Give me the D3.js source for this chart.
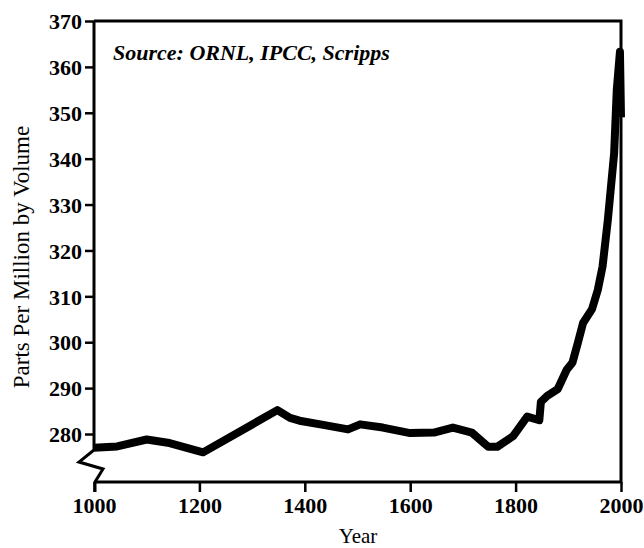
<!DOCTYPE html>
<html>
<head>
<meta charset="utf-8">
<script src="https://cdn.jsdelivr.net/npm/d3@7"></script>
<style>
  html, body { margin: 0; padding: 0; background: #fff; }
  svg { display: block; }
</style>
</head>
<body>
<script>
// ---- data ----
const years = [1000, 1044, 1100, 1140, 1207, 1348, 1372, 1390, 1435, 1482, 1505, 1548, 1600, 1645,
               1681, 1717, 1748, 1765, 1795, 1822, 1845, 1848, 1860, 1880, 1897, 1908, 1918, 1928,
               1945, 1956, 1965, 1975, 1987, 1992, 1998, 2000];
const ppm   = [277.0, 277.3, 278.8, 278.1, 276.0, 285.2, 283.5, 282.9, 282.0, 281.0, 282.1, 281.4, 280.2, 280.3,
               281.4, 280.3, 277.2, 277.2, 279.5, 283.8, 283.0, 287.0, 288.3, 289.8, 294.0, 295.6, 299.8, 304.2,
               307.2, 311.4, 316.5, 326.6, 341.2, 355.0, 363.3, 349.0];
const xTicks = [1000, 1200, 1400, 1600, 1800, 2000];
const yTicks = [280, 290, 300, 310, 320, 330, 340, 350, 360, 370];
const sourceText = "Source: ORNL, IPCC, Scripps";
const xTitle = "Year";
const yTitle = "Parts Per Million by Volume";

// ---- layout ----
const W = 644, H = 548;
const mLeft = 94, mRight = 621, mTop = 21, mBottom = 482;
const FONT = "Liberation Serif";

const svg = d3.select("body").append("svg").attr("width", W).attr("height", H);

const x = d3.scaleLinear().domain([1000, 2000]).range([mLeft, mRight]);
const y = d3.scaleLinear().domain([280, 370]).range([434, mTop]);

// frame: top, right, bottom
svg.append("path")
  .attr("d", `M${mLeft},${mTop}H${mRight}V${mBottom}H${mLeft + 1}`)
  .attr("fill", "none").attr("stroke", "#000").attr("stroke-width", 3);

// left axis line with break zigzag
svg.append("path")
  .attr("d", `M${mLeft},${mTop}V450L79,462L103,469L95,${mBottom}V${mBottom + 10}`)
  .attr("fill", "none").attr("stroke", "#000").attr("stroke-width", 3)
  .attr("stroke-linejoin", "miter");

// y axis
const yAxis = svg.append("g").attr("transform", `translate(${mLeft},0)`)
  .call(d3.axisLeft(y).tickValues(yTicks).tickSize(9).tickPadding(3).tickFormat(d3.format("d")))
  .attr("font-family", FONT).attr("font-size", 22);
yAxis.select(".domain").remove();
yAxis.selectAll(".tick line").attr("stroke", "#000").attr("stroke-width", 2.5);
yAxis.selectAll(".tick text")
  .style("font-family", FONT).style("font-size", "22px").style("font-weight", "bold")
  .attr("fill", "#000")
  .attr("dy", "0.35em");

// x axis
const xAxis = svg.append("g").attr("transform", `translate(0,${mBottom})`)
  .call(d3.axisBottom(x).tickValues(xTicks).tickSize(10).tickPadding(5).tickFormat(d3.format("d")))
  .attr("font-family", FONT).attr("font-size", 22);
xAxis.select(".domain").remove();
xAxis.selectAll(".tick line").attr("stroke", "#000").attr("stroke-width", 2.5);
xAxis.selectAll(".tick text")
  .style("font-family", FONT).style("font-size", "22px").style("font-weight", "bold")
  .attr("fill", "#000")
  .attr("dy", "0.72em");

// data line
const data = years.map((yr, i) => ({ yr, v: ppm[i] }));
svg.append("path")
  .datum(data)
  .attr("fill", "none")
  .attr("stroke", "#000")
  .attr("stroke-width", 8)
  .attr("stroke-linejoin", "round")
  .attr("stroke-linecap", "butt")
  .attr("d", d3.line().x(d => x(d.yr)).y(d => y(d.v)));

// source annotation
svg.append("text")
  .attr("x", 113).attr("y", 60)
  .style("font-family", FONT).style("font-size", "22px").style("font-style", "italic")
  .style("font-weight", "bold")
  .attr("fill", "#000")
  .text(sourceText);

// axis titles
svg.append("text")
  .attr("x", 358).attr("y", 543)
  .attr("text-anchor", "middle")
  .style("font-family", FONT).style("font-size", "21px")
  .attr("fill", "#000")
  .text(xTitle);

svg.append("text")
  .attr("transform", "translate(29,257) rotate(-90)")
  .attr("text-anchor", "middle")
  .style("font-family", FONT).style("font-size", "23px")
  .attr("fill", "#000")
  .text(yTitle);
</script>
</body>
</html>
